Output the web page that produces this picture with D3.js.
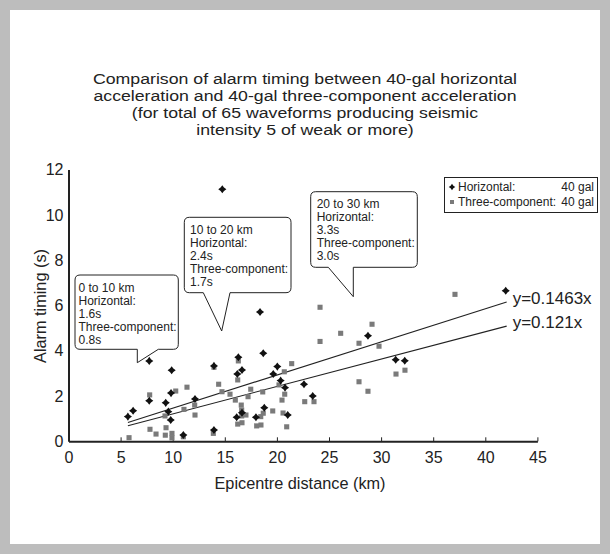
<!DOCTYPE html>
<html><head><meta charset="utf-8">
<script src="https://cdn.jsdelivr.net/npm/d3@7/dist/d3.min.js"></script>
<style>
html,body{margin:0;padding:0;background:#bdbdbd;}
svg{display:block;font-family:"Liberation Sans",Arial,Helvetica,sans-serif;}
</style></head>
<body>
<svg id="c" width="610" height="554"></svg>
<script>
// ---- data ----
const titleLines = [
  "Comparison of alarm timing between 40-gal horizontal",
  "acceleration and 40-gal three-component acceleration",
  "(for total of 65 waveforms producing seismic",
  "intensity 5 of weak or more)"
];
const xTicks = [0,5,10,15,20,25,30,35,40,45];
const yTicks = [0,2,4,6,8,10,12];
const xLabel = "Epicentre distance (km)";
const yLabel = "Alarm timing (s)";
// Horizontal 40 gal: [distance km, timing s]
const horizontal = [
 [5.7,1.09],[6.2,1.35],[7.75,3.55],[7.75,1.79],[9.33,1.70],[9.58,1.31],[9.81,0.94],
 [9.84,2.13],[9.9,3.14],[11.02,0.28],[12.14,1.87],[13.96,3.33],[13.96,0.50],[14.76,11.13],
 [16.14,1.06],[16.2,2.97],[16.3,3.71],[16.65,3.15],[16.65,1.26],[17.99,1.06],[18.38,5.71],
 [18.69,3.89],[18.79,1.48],[19.65,2.97],[20.04,3.30],[20.36,2.68],[20.78,2.37],[21.04,1.16],
 [22.6,2.52],[23.44,2.00],[28.74,4.66],[31.4,3.60],[32.27,3.56],[41.96,6.65]
];
// Three-component 40 gal
const threeComp = [
 [5.81,0.16],[7.79,2.05],[7.82,0.53],[8.4,0.32],[9.26,1.12],[9.36,0.60],[9.29,0.27],
 [9.93,0.35],[9.93,0.15],[10.29,2.22],[11.02,0.20],[11.08,1.41],[11.37,2.39],[12.11,1.60],
 [12.14,1.16],[13.9,0.35],[13.96,3.27],[14.41,2.52],[14.73,2.19],[15.5,2.08],[16.01,1.82],
 [16.24,2.71],[16.3,3.55],[16.24,0.76],[16.58,1.60],[16.62,1.38],[16.62,1.12],[16.65,0.82],
 [17.03,1.16],[17.23,1.97],[17.49,2.30],[18.06,0.68],[18.45,1.09],[18.47,0.72],[18.64,2.18],
 [18.69,1.24],[19.6,1.34],[20.2,2.49],[20.49,1.82],[20.59,1.25],[20.71,3.07],[20.75,2.08],
 [20.94,0.64],[21.42,3.43],[22.67,1.75],[23.56,1.75],[24.14,5.92],[24.14,4.41],[26.12,4.77],
 [27.88,4.33],[27.88,2.63],[28.74,2.21],[29.13,5.17],[29.8,4.20],[31.43,2.97],[32.29,3.14],
 [37.09,6.49]
];
const slopes = [0.1463, 0.121];
const fitLabels = ["y=0.1463x", "y=0.121x"];
const fitRange = [5.7, 42.05];
const legendNames = ["Horizontal:", "Three-component:"];
const legendValues = ["40 gal", "40 gal"];
const calloutText = [
  ["0 to 10 km","Horizontal:","1.6s","Three-component:","0.8s"],
  ["10 to 20 km","Horizontal:","2.4s","Three-component:","1.7s"],
  ["20 to 30 km","Horizontal:","3.3s","Three-component:","3.0s"]
];

// ---- drawing ----
const svg = d3.select("#c");
svg.append("rect").attr("x",10).attr("y",10).attr("width",590).attr("height",534).attr("fill","#fff");

const x = d3.scaleLinear().domain([0,45]).range([68.5,537.4]);
const y = d3.scaleLinear().domain([0,12]).range([441.3,169.6]);
const ink = "#222";

// title (tight leading, slightly widened glyphs)
svg.append("g").selectAll("text").data(titleLines).join("text")
  .attr("x",305).attr("y",(d,i)=>83.5+i*17.2).attr("text-anchor","middle")
  .attr("font-size",15.4).attr("fill",ink).text(d=>d)
  .each(function(){ const w=this.getComputedTextLength();
    d3.select(this).attr("textLength",w*1.15).attr("lengthAdjust","spacingAndGlyphs"); });

// axes
const xa = svg.append("g").attr("transform",`translate(0,${y(0)})`)
  .call(d3.axisBottom(x).tickValues(xTicks).tickSizeInner(-4).tickSizeOuter(0).tickPadding(10));
const ya = svg.append("g").attr("transform",`translate(${x(0)},0)`)
  .call(d3.axisLeft(y).tickValues(yTicks).tickSize(0).tickPadding(5));
[xa,ya].forEach(a=>{
  a.select(".domain").attr("stroke",ink).attr("stroke-width",2);
  a.selectAll(".tick line").attr("stroke",ink).attr("stroke-width",1);
  a.selectAll(".tick text").attr("font-size",16).attr("fill",ink)
   .attr("font-family","'Liberation Sans',Arial,sans-serif");
});
xa.selectAll(".tick").filter(d=>d===0).select("line").remove();

svg.append("text").attr("x",300).attr("y",489).attr("text-anchor","middle")
  .attr("font-size",16.3).attr("fill",ink).text(xLabel);
svg.append("text").attr("transform","translate(46,306) rotate(-90)").attr("text-anchor","middle")
  .attr("font-size",16.3).attr("fill",ink).text(yLabel);

// fit lines
const fits = slopes.map((s,i)=>({s,label:fitLabels[i]}));
svg.append("g").selectAll("line").data(fits).join("line")
  .attr("x1",x(fitRange[0])).attr("x2",x(fitRange[1]))
  .attr("y1",d=>y(d.s*fitRange[0])).attr("y2",d=>y(d.s*fitRange[1]))
  .attr("stroke",ink).attr("stroke-width",1.1);
svg.append("g").selectAll("text").data(fits).join("text")
  .attr("x",x(fitRange[1])+6).attr("y",d=>y(d.s*fitRange[1])+1.5)
  .attr("font-size",17).attr("fill",ink).text(d=>d.label);

// points
const star4 = {draw(ctx,size){const r=Math.sqrt(size)/1.3, q=r*0.42;
  ctx.moveTo(0,-r);ctx.lineTo(q,-q);ctx.lineTo(r,0);ctx.lineTo(q,q);
  ctx.lineTo(0,r);ctx.lineTo(-q,q);ctx.lineTo(-r,0);ctx.lineTo(-q,-q);ctx.closePath();}};
const sq = d3.symbol().type(d3.symbolSquare).size(26);
const dm = d3.symbol().type(star4).size(28);
svg.append("g").selectAll("path").data(threeComp).join("path")
  .attr("d",sq).attr("transform",d=>`translate(${x(d[0])},${y(d[1])})`).attr("fill","#7a7a7a");
svg.append("g").selectAll("path").data(horizontal).join("path")
  .attr("d",dm).attr("transform",d=>`translate(${x(d[0])},${y(d[1])})`).attr("fill","#111");

// legend
const lg = svg.append("g");
lg.append("rect").attr("x",444.5).attr("y",177.5).attr("width",153).attr("height",35)
  .attr("fill","#fff").attr("stroke",ink).attr("stroke-width",1);
legendNames.forEach((n,i)=>{
  const cy = 187+i*15;
  lg.append("path").attr("d", i===0 ? d3.symbol().type(star4).size(18)() : d3.symbol().type(d3.symbolSquare).size(16)())
    .attr("transform",`translate(452,${cy})`).attr("fill", i===0?"#111":"#7a7a7a");
  lg.append("text").attr("x",458).attr("y",cy+4.3).attr("font-size",12).attr("fill",ink).text(n);
  lg.append("text").attr("x",594).attr("y",cy+4.3).attr("text-anchor","end").attr("font-size",12).attr("fill",ink).text(legendValues[i]);
});

// callouts: box [x0,y0,x1,y1], pointer base [a,b], tip [tx,ty]
const callouts = [
  {box:[75,275,178.3,349.3], base:[137.3,158.3], tip:[137.3,362.7], tx:78.5, ty:292},
  {box:[184.3,217.3,291,292.7], base:[203.3,230], tip:[221.7,331], tx:190, ty:233.5},
  {box:[310.7,191.7,417.3,267.3], base:[328.3,353.3], tip:[353.3,296.7], tx:316.7, ty:207.8}
];
function calloutPath(c){
  const [x0,y0,x1,y1]=c.box, r=5, [a,b]=c.base, [tx,ty]=c.tip;
  return `M${x0+r},${y0} H${x1-r} Q${x1},${y0} ${x1},${y0+r} V${y1-r} Q${x1},${y1} ${x1-r},${y1}`+
    ` H${b} L${tx},${ty} L${a},${y1} H${x0+r} Q${x0},${y1} ${x0},${y1-r} V${y0+r} Q${x0},${y0} ${x0+r},${y0} Z`;
}
callouts.forEach((c,k)=>{
  svg.append("path").attr("d",calloutPath(c)).attr("fill","#fff").attr("stroke",ink).attr("stroke-width",1);
  svg.append("g").selectAll("text").data(calloutText[k]).join("text")
    .attr("x",c.tx).attr("y",(d,i)=>c.ty+i*13).attr("font-size",12).attr("fill",ink).text(d=>d);
});
</script>
</body></html>
